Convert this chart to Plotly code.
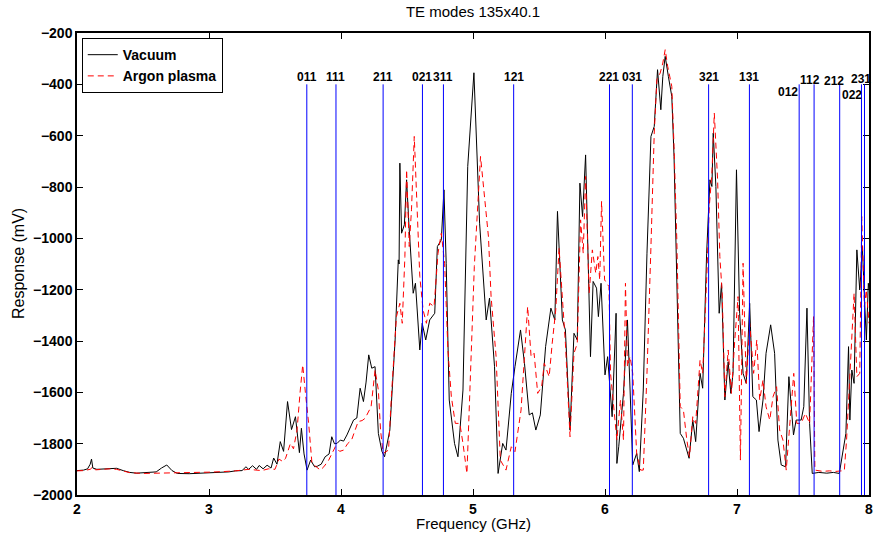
import plotly.graph_objects as go

# ---------------- data ----------------
freq_vac = [2.00, 2.05, 2.08, 2.10, 2.11, 2.12, 2.15, 2.20, 2.25, 2.30, 2.35, 2.40, 2.45, 2.50, 2.55, 2.60,
            2.64, 2.68, 2.72, 2.76, 2.85, 2.95, 3.05, 3.15, 3.20, 3.25, 3.28, 3.30, 3.33, 3.36, 3.38, 3.41,
            3.44, 3.47, 3.49, 3.515, 3.54, 3.565, 3.595, 3.625, 3.655, 3.685, 3.70, 3.72, 3.743, 3.77, 3.80,
            3.82, 3.85, 3.88, 3.91, 3.93, 3.95, 3.97, 3.995, 4.02, 4.045, 4.07, 4.095, 4.12, 4.145, 4.17,
            4.19, 4.21, 4.233, 4.258, 4.283, 4.31, 4.33, 4.37, 4.41, 4.434, 4.44, 4.446, 4.459, 4.48, 4.497,
            4.514, 4.547, 4.564, 4.597, 4.615, 4.642, 4.672, 4.71, 4.73, 4.76, 4.78, 4.797, 4.82, 4.86, 4.886,
            4.924, 4.96, 5.007, 5.05, 5.10, 5.125, 5.163, 5.19, 5.225, 5.25, 5.29, 5.318, 5.36, 5.39, 5.426,
            5.45, 5.476, 5.51, 5.55, 5.59, 5.62, 5.64, 5.677, 5.70, 5.735, 5.765, 5.79, 5.81, 5.83, 5.853,
            5.89, 5.91, 5.936, 5.95, 5.97, 6.00, 6.02, 6.054, 6.084, 6.09, 6.104, 6.14, 6.17, 6.19, 6.21,
            6.24, 6.26, 6.29, 6.318, 6.348, 6.373, 6.398, 6.413, 6.423, 6.438, 6.456, 6.48, 6.506, 6.523,
            6.544, 6.57, 6.594, 6.62, 6.637, 6.665, 6.687, 6.72, 6.74, 6.77, 6.795, 6.81, 6.82, 6.84, 6.865,
            6.883, 6.908, 6.933, 6.953, 6.97, 6.996, 7.02, 7.046, 7.07, 7.096, 7.12, 7.147, 7.167, 7.197,
            7.22, 7.255, 7.285, 7.31, 7.335, 7.368, 7.393, 7.428, 7.448, 7.486, 7.506, 7.53, 7.55, 7.57,
            7.62, 7.68, 7.73, 7.775, 7.825, 7.845, 7.855, 7.87, 7.887, 7.908, 7.93, 7.95, 7.965, 7.98,
            7.995, 8.00]
resp_vac = [-1905, -1903, -1898, -1880, -1860, -1895, -1900, -1898, -1897, -1896, -1905, -1912, -1915, -1914,
            -1913, -1910, -1895, -1883, -1905, -1916, -1917, -1915, -1913, -1910, -1906, -1905, -1890, -1900,
            -1886, -1900, -1885, -1898, -1884, -1895, -1856, -1880, -1792, -1830, -1636, -1745, -1695, -1835,
            -1740, -1840, -1903, -1864, -1890, -1888, -1880, -1851, -1840, -1773, -1800, -1799, -1786, -1790,
            -1766, -1740, -1708, -1700, -1584, -1636, -1560, -1454, -1506, -1500, -1760, -1830, -1851, -1747,
            -1396, -1084, -1100, -707, -980, -947, -772, -941, -1214, -1175, -1435, -1331, -1396, -1318,
            -1292, -1032, -1006, -811, -1097, -1630, -1799, -1851, -1591, -720, -355, -941, -1318, -1233,
            -1500, -1916, -1799, -1825, -1604, -1500, -1357, -1487, -1688, -1680, -1747, -1688, -1422, -1272,
            -1318, -895, -1318, -1357, -1747, -1370, -1396, -785, -915, -675, -1461, -1168, -1194, -1305,
            -1175, -1532, -1461, -1695, -1292, -1877, -1812, -1604, -1318, -1591, -1883, -1838, -1909, -1591,
            -1058, -603, -564, -343, -421, -499, -369, -291, -369, -447, -681, -1201, -1760, -1779, -1825,
            -1857, -1708, -1792, -1526, -1584, -1058, -772, -798, -590, -798, -1292, -1175, -1630, -1481,
            -1604, -1526, -733, -1292, -1526, -1565, -1253, -1617, -1630, -1753, -1630, -1448, -1337, -1448,
            -1786, -1883, -1890, -1539, -1766, -1708, -1708, -1656, -1272, -1721, -1916, -1912, -1915, -1912,
            -1916, -1760, -1422, -1708, -1513, -1565, -1045, -1201, -1032, -1227, -1396, -1175, -1200]

freq_ar = [2.00, 2.05, 2.10, 2.12, 2.14, 2.20, 2.25, 2.30, 2.35, 2.40, 2.50, 2.60, 2.70, 2.80, 2.90, 3.00,
           3.10, 3.20, 3.30, 3.40, 3.45, 3.50, 3.53, 3.56, 3.58, 3.617, 3.64, 3.667, 3.69, 3.71, 3.73, 3.755,
           3.78, 3.844, 3.87, 3.907, 3.957, 3.99, 4.02, 4.05, 4.08, 4.13, 4.16, 4.183, 4.228, 4.258, 4.283,
           4.30, 4.32, 4.36, 4.383, 4.42, 4.446, 4.464, 4.484, 4.497, 4.517, 4.534, 4.555, 4.567, 4.597,
           4.622, 4.647, 4.672, 4.705, 4.735, 4.76, 4.785, 4.81, 4.836, 4.866, 4.90, 4.924, 4.954, 4.98,
           5.01, 5.057, 5.08, 5.117, 5.137, 5.175, 5.207, 5.25, 5.29, 5.318, 5.364, 5.414, 5.44, 5.463,
           5.49, 5.52, 5.54, 5.577, 5.60, 5.627, 5.652, 5.677, 5.70, 5.735, 5.765, 5.79, 5.815, 5.835, 5.853,
           5.88, 5.904, 5.93, 5.946, 5.96, 5.974, 5.997, 6.03, 6.042, 6.067, 6.09, 6.117, 6.14, 6.155, 6.17,
           6.19, 6.21, 6.24, 6.27, 6.29, 6.318, 6.348, 6.373, 6.393, 6.418, 6.438, 6.456, 6.475, 6.506,
           6.523, 6.544, 6.57, 6.594, 6.62, 6.64, 6.665, 6.687, 6.72, 6.74, 6.77, 6.79, 6.81, 6.828, 6.853,
           6.87, 6.888, 6.908, 6.933, 6.958, 6.983, 7.008, 7.026, 7.046, 7.07, 7.096, 7.126, 7.15, 7.172,
           7.197, 7.22, 7.248, 7.273, 7.30, 7.323, 7.348, 7.373, 7.398, 7.43, 7.453, 7.486, 7.518, 7.55,
           7.58, 7.59, 7.65, 7.70, 7.75, 7.813, 7.83, 7.855, 7.887, 7.908, 7.93, 7.945, 7.965, 7.98, 8.00]
resp_ar = [-1906, -1905, -1900, -1890, -1902, -1900, -1898, -1900, -1908, -1913, -1916, -1915, -1916, -1914,
           -1912, -1911, -1909, -1906, -1900, -1905, -1898, -1900, -1860, -1870, -1857, -1799, -1820, -1747,
           -1600, -1493, -1600, -1721, -1877, -1903, -1890, -1864, -1812, -1830, -1825, -1800, -1786, -1714,
           -1710, -1701, -1656, -1513, -1591, -1750, -1838, -1825, -1604, -1305, -1253, -1331, -1071, -733,
           -1032, -889, -603, -746, -1149, -1279, -1331, -1253, -1266, -1058, -980, -1097, -1435, -1617,
           -1721, -1721, -1799, -1916, -1526, -1110, -681, -811, -993, -1227, -1461, -1864, -1903, -1812,
           -1831, -1669, -1266, -1461, -1448, -1604, -1578, -1487, -1539, -1409, -1279, -1038, -1253, -1409,
           -1773, -1448, -1409, -928, -1058, -759, -1214, -1045, -1136, -1071, -1162, -856, -1162, -1188,
           -1526, -1656, -1786, -1630, -1786, -1175, -1500, -1461, -1526, -1838, -1903, -1903, -1526, -1032,
           -590, -382, -356, -317, -265, -330, -408, -642, -1006, -1656, -1669, -1786, -1851, -1695, -1721,
           -1474, -1526, -1162, -876, -746, -512, -772, -1071, -1214, -1617, -1435, -1604, -1396, -1227,
           -1864, -1097, -1565, -1331, -1526, -1396, -1630, -1552, -1656, -1708, -1617, -1578, -1747, -1786,
           -1903, -1721, -1526, -1721, -1721, -1682, -1721, -1305, -1903, -1908, -1906, -1908, -1905, -1786,
           -1526, -1214, -1539, -1526, -915, -1266, -1201, -1331]

mode_freqs = [3.741, 3.962, 4.319, 4.617, 4.776, 5.308, 6.034, 6.207, 6.785, 7.094,
              7.471, 7.584, 7.778, 7.943, 7.966]
mode_labels = ["011", "111", "211", "021", "311", "121", "221", "031", "321", "131",
               "012", "112", "212", "022", "231"]

x_ticks = [2, 3, 4, 5, 6, 7, 8]
y_ticks = [-2000, -1800, -1600, -1400, -1200, -1000, -800, -600, -400, -200]

# ---------------- styles ----------------
label_xshift = [0, 0, 0, 0, 0, 0, 0, 0, 0, 0, -11, -4, -6, -9, -4]
label_yshift = [7, 7, 7, 7, 7, 7, 7, 7, 7, 7, -8, 4, 3, -11, 5]
LINE_TOP = -400
LINE_BOTTOM = -2000
FONT = "Liberation Sans"

fig = go.Figure()
fig.add_trace(go.Scatter(x=freq_vac, y=resp_vac, mode="lines", name="Vacuum",
                         line=dict(color="black", width=1)))
fig.add_trace(go.Scatter(x=freq_ar, y=resp_ar, mode="lines", name="Argon plasma",
                         line=dict(color="#ff0000", width=1, dash="6px,4px")))

for f, lab, dx, dy in zip(mode_freqs, mode_labels, label_xshift, label_yshift):
    fig.add_shape(type="line", xref="x", yref="y", x0=f, x1=f, y0=LINE_BOTTOM, y1=LINE_TOP,
                  line=dict(color="#0000ff", width=1))
    fig.add_annotation(x=f, y=LINE_TOP, xref="x", yref="y", text=lab, showarrow=False,
                       xanchor="center", yanchor="middle", xshift=dx, yshift=dy,
                       font=dict(family=FONT, size=12, color="black", weight="bold"))

# axis titles
fig.add_annotation(text="Frequency (GHz)", xref="paper", yref="paper", x=0.5, y=0,
                   yshift=-28, xanchor="center", yanchor="middle", showarrow=False,
                   font=dict(family=FONT, size=15, color="black"))
fig.add_annotation(text="Response (mV)", xref="paper", yref="paper", x=0, y=0.5,
                   xshift=-59, xanchor="center", yanchor="middle", textangle=-90, showarrow=False,
                   font=dict(family=FONT, size=16, color="black"))

axis_common = dict(showline=True, linecolor="black", linewidth=1.5, mirror="ticks",
                   ticks="inside", ticklen=6, tickcolor="black", tickwidth=1,
                   showgrid=False, zeroline=False, ticklabeloverflow="allow",
                   tickfont=dict(family=FONT, size=14, color="black", weight="bold"))

fig.update_layout(
    width=873, height=538,
    margin=dict(l=77, r=0, t=33, b=43),
    paper_bgcolor="white", plot_bgcolor="white",
    title=dict(text="TE modes 135x40.1", x=0.5, xref="paper", y=1 - 12 / 538, yref="container",
               xanchor="center", yanchor="middle",
               font=dict(family=FONT, size=15, color="black")),
    xaxis=dict(range=[2, 8], tickvals=x_ticks, **axis_common),
    yaxis=dict(range=[-2000, -200], tickvals=y_ticks, **axis_common),
    legend=dict(x=0.006, y=0.989, xanchor="left", yanchor="top",
                bgcolor="white", bordercolor="black", borderwidth=1,
                font=dict(family=FONT, size=14, color="black", weight="bold"),
                tracegroupgap=0, itemwidth=30),
    showlegend=True,
)

fig.write_html("out.html")
